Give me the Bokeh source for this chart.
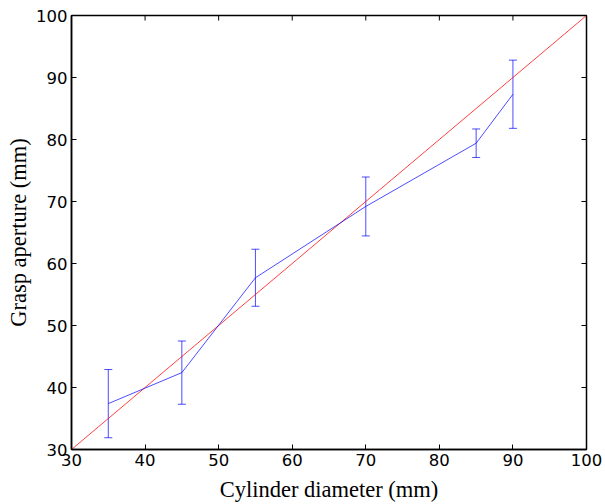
import math
from bokeh.plotting import figure
from bokeh.models import Range1d, FixedTicker, ColumnDataSource, Whisker
from bokeh.embed import file_html
from bokeh.resources import INLINE

diameter = [35, 45, 55, 70, 85, 90]
aperture = [37.4, 42.4, 57.7, 69.2, 79.4, 87.3]
err = [5.5, 5.1, 4.6, 4.75, 2.3, 5.5]
ideal_x = [30, 100]
ideal_y = [30, 100]
ticks = [30, 40, 50, 60, 70, 80, 90, 100]

p = figure(width=605, height=504, output_backend="svg", toolbar_location=None,
           x_range=Range1d(30, 100), y_range=Range1d(30, 100),
           min_border_left=71, min_border_right=19, min_border_top=15, min_border_bottom=54,
           x_axis_label="Cylinder diameter (mm)", y_axis_label="Grasp aperture (mm)")
p.grid.visible = False
p.outline_line_color = "black"
p.outline_line_width = 1.5
p.background_fill_color = "white"
p.border_fill_color = "white"

for ax in p.axis:
    ax.ticker = FixedTicker(ticks=ticks)
    ax.major_tick_in = 5
    ax.major_tick_out = 0
    ax.minor_tick_line_color = None
    ax.major_label_text_font = "DejaVu Sans"
    ax.major_label_text_font_size = "16.5px"
    ax.major_label_text_color = "black"
    ax.major_label_text_line_height = 1.0
    ax.axis_label_text_font = "Liberation Serif"
    ax.axis_label_text_font_size = "22.5px"
    ax.axis_label_text_font_style = "normal"
    ax.axis_label_text_color = "black"
    ax.axis_label_text_line_height = 1.0
    ax.axis_line_width = 1.5
    ax.major_label_standoff = 4
p.xaxis.axis_label_standoff = 8
p.yaxis.axis_label_standoff = 2

# inward ticks on top and right edges of the frame
top = max(ideal_y)
right = max(ideal_x)
p.ray(x=ticks, y=[top] * len(ticks), length=5, length_units="screen",
      angle=-math.pi / 2, line_color="black", line_width=1)
p.ray(x=[right] * len(ticks), y=ticks, length=5, length_units="screen",
      angle=math.pi, line_color="black", line_width=1)

p.line(ideal_x, ideal_y, line_color="red", line_width=1, line_alpha=0.75)

src = ColumnDataSource(dict(x=diameter, y=aperture,
                            lo=[a - e for a, e in zip(aperture, err)],
                            hi=[a + e for a, e in zip(aperture, err)]))
p.line("x", "y", source=src, line_color="blue", line_width=1, line_alpha=0.7)
w = Whisker(source=src, base="x", lower="lo", upper="hi", dimension="height",
            line_color="blue", line_alpha=0.7, line_width=1)
w.upper_head.size = 8
w.lower_head.size = 8
w.upper_head.line_color = "blue"
w.lower_head.line_color = "blue"
w.upper_head.line_alpha = 0.7
w.lower_head.line_alpha = 0.7
p.add_layout(w)

open("out.html", "w").write(file_html(p, INLINE))
